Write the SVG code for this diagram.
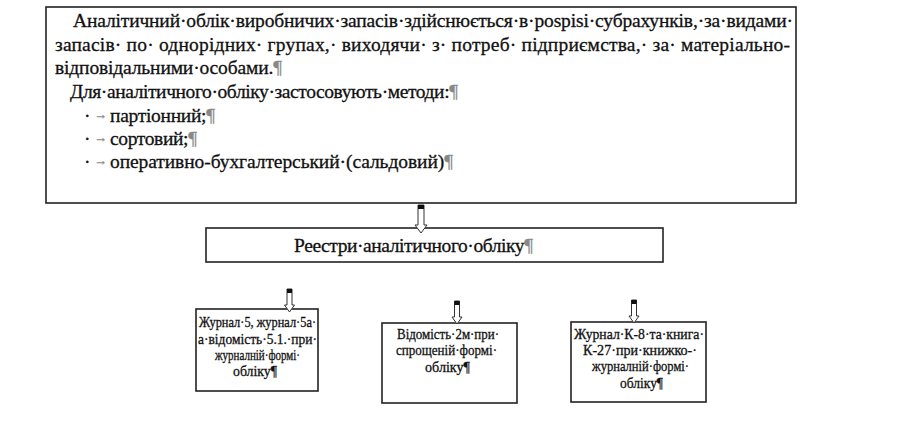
<svg xmlns="http://www.w3.org/2000/svg" width="916" height="443" viewBox="0 0 916 443">
<style>
.box{fill:#fff;stroke:#222;stroke-width:1.6}
text{font-family:"Times New Roman","Liberation Serif","DejaVu Serif",serif;fill:#111;stroke:#111;stroke-width:0.3}
.m{font-size:19.5px}
.s{font-size:14.5px}
.p{fill:#888;stroke:#888}
.ar{fill:#fff;stroke:#333;stroke-width:1}
.cap{fill:#111}
</style>
<rect width="916" height="443" fill="#fff"/>
<g id="node-main">
<rect class="box" x="46" y="7" width="750" height="196"/>
<text class="m" x="73" y="27" textLength="720" lengthAdjust="spacing">Аналітичний·облік·виробничих·запасів·здійснюється·в·pospisi·субрахунків,·за·видами·</text>
<text class="m" x="55" y="51" textLength="735" lengthAdjust="spacing">запасів· по· однорідних· групах,· виходячи· з· потреб· підприємства,· за· матеріально-</text>
<text class="m" x="55" y="74" textLength="227" lengthAdjust="spacing">відповідальними·особами.<tspan class="p">¶</tspan></text>
<text class="m" x="70" y="98" textLength="388" lengthAdjust="spacing">Для·аналітичного·обліку·застосовують·методи:<tspan class="p">¶</tspan></text>
<text class="m" x="84" y="122">·</text>
<text class="p" font-size="13" x="94" y="119">→</text>
<text class="m" x="110" y="122" textLength="105" lengthAdjust="spacing">партіонний;<tspan class="p">¶</tspan></text>
<text class="m" x="84" y="145">·</text>
<text class="p" font-size="13" x="94" y="142">→</text>
<text class="m" x="110" y="145" textLength="87" lengthAdjust="spacing">сортовий;<tspan class="p">¶</tspan></text>
<text class="m" x="84" y="168">·</text>
<text class="p" font-size="13" x="94" y="165">→</text>
<text class="m" x="110" y="168" textLength="343" lengthAdjust="spacing">оперативно-бухгалтерський·(сальдовий)<tspan class="p">¶</tspan></text>
</g>
<g id="node-registers">
<rect class="box" x="206" y="228" width="457" height="34"/>
<text class="m" x="294" y="252" textLength="239" lengthAdjust="spacing">Реестри·аналітичного·обліку<tspan class="p">¶</tspan></text>
</g>
<g id="node-journal5">
<rect class="box" x="196" y="309" width="122" height="82"/>
<text class="s" x="199" y="327" textLength="117" lengthAdjust="spacingAndGlyphs">Журнал·5, журнал·5а·</text>
<text class="s" x="198" y="344" textLength="119" lengthAdjust="spacingAndGlyphs">а·відомість·5.1.·при·</text>
<text class="s" x="215" y="360" textLength="85" lengthAdjust="spacingAndGlyphs">журналній·формі·</text>
<text class="s" x="233" y="376" textLength="44" lengthAdjust="spacingAndGlyphs">обліку¶</text>
</g>
<g id="node-vidomist">
<rect class="box" x="382" y="323" width="135" height="80"/>
<text class="s" x="397" y="339" textLength="102" lengthAdjust="spacingAndGlyphs">Відомість·2м·при·</text>
<text class="s" x="396" y="355" textLength="101" lengthAdjust="spacingAndGlyphs">спрощеній·формі·</text>
<text class="s" x="425" y="372" textLength="45" lengthAdjust="spacingAndGlyphs">обліку¶</text>
</g>
<g id="node-journalK8">
<rect class="box" x="571" y="322" width="135" height="80"/>
<text class="s" x="574" y="339" textLength="130" lengthAdjust="spacingAndGlyphs">Журнал·К-8·та·книга·</text>
<text class="s" x="583" y="355" textLength="114" lengthAdjust="spacingAndGlyphs">К-27·при·книжко-·</text>
<text class="s" x="592" y="371" textLength="97" lengthAdjust="spacingAndGlyphs">журналній·формі·</text>
<text class="s" x="620" y="388" textLength="43" lengthAdjust="spacingAndGlyphs">обліку¶</text>
</g>
<g id="connectors">
<polygon class="ar" points="418,205 424,205 424,225 427,225 421,233 415,225 418,225"/>
<rect class="cap" x="418" y="205" width="6" height="4"/>
<polygon class="ar" points="287,289 292,289 292,305 294.5,305 289.5,312 284.5,305 287,305"/>
<rect class="cap" x="287" y="289" width="5" height="4"/>
<polygon class="ar" points="454.5,301 459.5,301 459.5,317 462,317 457,324 452,317 454.5,317"/>
<rect class="cap" x="454.5" y="301" width="5" height="4"/>
<polygon class="ar" points="631.5,300 636.5,300 636.5,316 639,316 634,323 629,316 631.5,316"/>
<rect class="cap" x="631.5" y="300" width="5" height="4"/>
</g>
</svg>
